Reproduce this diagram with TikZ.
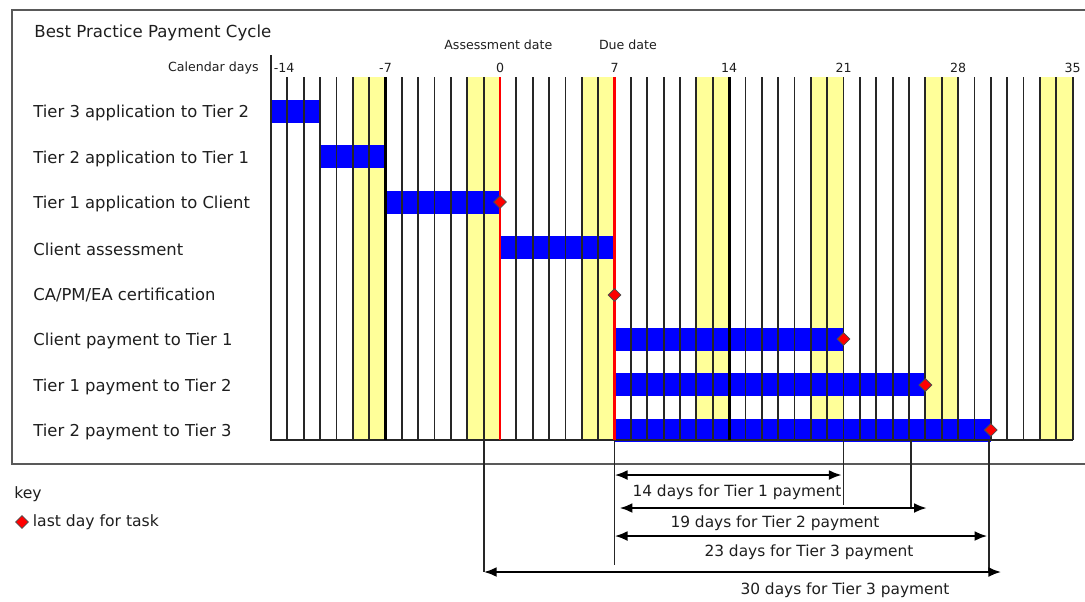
\documentclass[tikz,border=0pt]{standalone}
\usepackage{fontspec}
\setmainfont{DejaVu Sans}
\usepackage{tikz}
\usetikzlibrary{shapes.geometric, arrows.meta, positioning}
\definecolor{cBar}{RGB}{0,0,255}
\definecolor{cWeekend}{RGB}{255,255,153}
\definecolor{cDue}{RGB}{255,0,0}
\definecolor{cInk}{RGB}{30,30,30}
\tikzset{
	chartframe/.style={draw=black!65, line width=1pt},
	dayline/.style   ={draw=black!85, line width=0.9pt},
	weekline/.style  ={draw=black, line width=1.5pt},
	dueline/.style   ={draw=cDue, line width=1.4pt},
	weekend/.style   ={fill=cWeekend},
	taskbar/.style   ={fill=cBar},
	lastday/.style   ={diamond, draw=black!70, fill=cDue, line width=0.4pt, minimum size=6.5pt, inner sep=0pt},
	% text styles
	rowlabel/.style  ={anchor=west, text=cInk, font=\fontsize{8.2}{10}\selectfont, inner sep=0pt},
	daylabel/.style  ={text=cInk, font=\fontsize{6.3}{8}\selectfont, inner sep=0pt},
	spanlabel/.style ={text=cInk, font=\fontsize{7.7}{9}\selectfont, inner sep=0pt},
	% span arrows
	guideline/.style ={draw=black!85, line width=0.9pt},
	spanarrow/.style ={{Latex[length=6.5pt,width=5pt]}-{Latex[length=6.5pt,width=5pt]}, line width=1.4pt},
}

\begin{document}
\begin{tikzpicture}[x=0.5pt, y=-0.5pt]
	\useasboundingbox (0,0) rectangle (1085,601);
	\draw[chartframe] (1085,10) -- (12,10) -- (12,464) -- (1085,464);
	\node[rowlabel, font=\fontsize{8.3}{10}\selectfont] (title) at (34,33) {Best Practice Payment Cycle};
	\node[daylabel, anchor=east] (calendar) at (259,68) {Calendar days};
	\foreach \n/\l in {
		0/{Tier 3 application to Tier 2},
		1/{Tier 2 application to Tier 1},
		2/{Tier 1 application to Client},
		3/{Client assessment},
		4/{CA/PM/EA certification},
		5/{Client payment to Tier 1},
		6/{Tier 1 payment to Tier 2},
		7/{Tier 2 payment to Tier 3}} {
		\node[rowlabel] (row\n) at (33,{113+45.6*\n}) {\l};
	}
	% grid in days, day 0 at 500px
	\begin{scope}[xshift=250pt, x=8.18pt]
		\foreach \w in {-7,0,...,35}
			\fill[weekend] (\w-2,77) rectangle (\w,440);
		\foreach \r/\a/\b in {0/-14/-11, 1/-11/-7, 2/-7/0, 3/0/7, 5/7/21, 6/7/26, 7/7/30}
			\fill[taskbar] (\a,{99.5+45.6*\r}) rectangle (\b,{122.5+45.6*\r});
		\foreach \d in {-13,...,35}
			\draw[dayline] (\d,77) -- (\d,440);
		\draw[dayline] (-14,55) -- (-14,440) -- (35,440);
		\draw[weekline] (-7,77) -- (-7,440) (14,77) -- (14,440);
		\draw[dueline] (0,77) -- (0,440) (7,77) -- (7,440);
		\node[daylabel, anchor=west] (tick0) at (-13.85,68) {-14};
		\foreach \d [count=\k] in {-7,0,...,35}
			\node[daylabel] (tick\k) at (\d,68) {\d};
		\node[daylabel] (assess) at (-0.1,45) {Assessment date};
		\node[daylabel] (due) at (7.82,45) {Due date};
		\node[lastday] (endTierOneApp) at (0,202) {};
		\node[lastday] (endCert) at (7,295) {};
		\node[lastday] (endClientPay) at (21,339) {};
		\node[lastday] (endTierOnePay) at (26,385) {};
		\node[lastday] (endTierTwoPay) at (30,430) {};
		% guides below the grid
		\coordinate (gA) at (-1,440);
		\coordinate (gB) at (7,440);
		\coordinate (gC) at (21,440);
		\coordinate (gD) at (25.1,440);
		\coordinate (gE) at (29.9,440);
		\draw[guideline] (gA) -- ++(0,132);
		\draw[guideline] (gB) -- ++(0,125);
		\draw[guideline] (gC) -- ++(0,65);
		\draw[guideline] (gD) -- ++(0,69);
		\draw[guideline] (gE) -- ++(0,132);
		\coordinate (a14L) at (7,475);    \coordinate (a14R) at (20.9,475);
		\coordinate (a19L) at (7.3,508);  \coordinate (a19R) at (26.1,508);
		\coordinate (a23L) at (7,536);    \coordinate (a23R) at (29.8,536);
		\coordinate (a30L) at (-1,572);   \coordinate (a30R) at (30.65,572);
		\draw[spanarrow] (a14L) -- (a14R);
		\draw[spanarrow] (a19L) -- (a19R);
		\draw[spanarrow] (a23L) -- (a23R);
		\draw[spanarrow] (a30L) -- (a30R);
	\end{scope}
	\node[spanlabel] (lab14) at (737,492) {14 days for Tier 1 payment};
	\node[spanlabel] (lab19) at (775,523) {19 days for Tier 2 payment};
	\node[spanlabel] (lab23) at (809,552) {23 days for Tier 3 payment};
	\node[spanlabel] (lab30) at (845,590) {30 days for Tier 3 payment};
	% key
	\node[rowlabel, font=\fontsize{7.8}{10}\selectfont] (key) at (14,494) {key};
	\node[lastday] (keyMark) at (22,522) {};
	\node[rowlabel, font=\fontsize{7.8}{10}\selectfont, right=1.8pt of keyMark] (keyText) {last day for task};
\end{tikzpicture}
\end{document}
